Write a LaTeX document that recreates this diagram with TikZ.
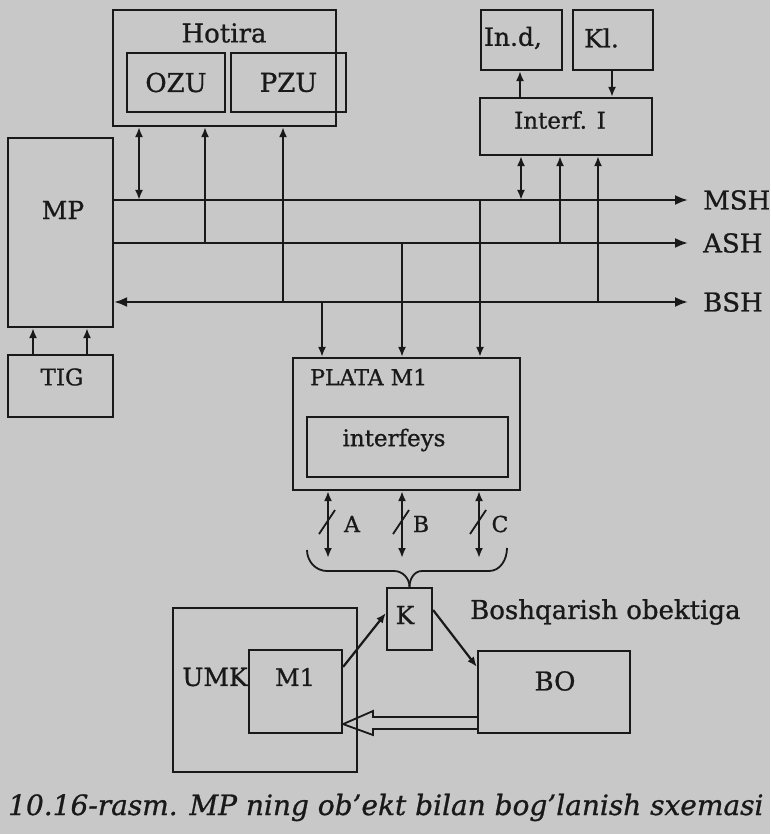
\documentclass[tikz,border=0pt]{standalone}
\usepackage{fontspec}
\setmainfont[FakeBold=0.9]{DejaVu Serif}
\usetikzlibrary{arrows.meta,calc}
\definecolor{bgc}{RGB}{200,200,200}
\definecolor{ink}{RGB}{25,25,25}
\begin{document}
\begin{tikzpicture}[x=1pt,y=-1pt,
  box/.style={draw=ink, line width=2.2pt, inner sep=0pt, text=ink, font=\fontsize{26}{30}\selectfont},
  lbl/.style={text=ink, inner sep=0pt, font=\fontsize{26}{30}\selectfont},
  conn/.style={draw=ink, line width=2.2pt},
  tip/.style={-{Latex[length=10pt,width=8pt]}},
  tips/.style={{Latex[length=10pt,width=8pt]}-{Latex[length=10pt,width=8pt]}},
  bustip/.style={-{Latex[length=13pt,width=10pt]}},
  bustips/.style={{Latex[length=13pt,width=10pt]}-{Latex[length=13pt,width=10pt]}}
]
\fill[bgc] (0,0) rectangle (770,834);
\useasboundingbox (0,0) rectangle (770,834);

% memory
\node[box, minimum width=223pt, minimum height=116pt] (hot) at (224.5,68) {};
\node[lbl] (hotT) at (224,33) {Hotira};
\node[box, minimum width=98pt, minimum height=59pt] (ozu) at (176,82.5) {OZU};
\node[box, minimum width=115pt, minimum height=59pt] (pzu) at (288.5,82.5) {PZU};

% MP and TIG
\node[box, minimum width=105pt, minimum height=189pt] (mp) at (60.5,232.5) {};
\node[lbl, font=\fontsize{25}{30}\selectfont] (mpT) at (63,210) {MP};
\node[box, minimum width=105pt, minimum height=62pt] (tig) at (60.5,386) {};
\node[lbl, font=\fontsize{23}{28}\selectfont] (tigT) at (62,377) {TIG};
\draw[conn, tip] (tig.north -| 33,0) -- (mp.south -| 33,0);
\draw[conn, tip] (tig.north -| 87,0) -- (mp.south -| 87,0);

% I/O
\node[box, minimum width=81pt, minimum height=60pt] (ind) at (521.5,40) {};
\node[lbl, font=\fontsize{25}{30}\selectfont] (indT) at (513,38) {In.d,};
\node[box, minimum width=80pt, minimum height=60pt] (kl) at (613,40) {};
\node[lbl, font=\fontsize{25}{30}\selectfont, anchor=west] (klT) at (584,38) {Kl.};
\node[box, minimum width=172pt, minimum height=57pt] (itf) at (566,126.5) {};
\node[lbl, font=\fontsize{23}{28}\selectfont] (itfT) at (560,120) {Interf. I};
\draw[conn, tip] (itf.north -| 520,0) -- (ind.south -| 520,0);
\draw[conn, tip] (kl.south -| 612,0) -- (itf.north -| 612,0);

% buses
\coordinate (mshE) at (688,200);
\coordinate (ashE) at (688,243);
\coordinate (bshE) at (688,302);
\draw[conn, bustip] (mp.east |- mshE) -- (mshE);
\draw[conn, bustip] (mp.east |- ashE) -- (ashE);
\draw[conn, bustips] (mp.east |- bshE) -- (bshE);
\node[lbl, anchor=west] (mshT) at (703,200) {MSH};
\node[lbl, anchor=west] (ashT) at (703,243) {ASH};
\node[lbl, anchor=west] (bshT) at (703,302) {BSH};

% memory links
\coordinate (h1) at (139,200);
\coordinate (h2) at (205,243);
\coordinate (h3) at (283,302);
\draw[conn, tips] (h1) -- (h1 |- hot.south);
\draw[conn, tip] (h2) -- (h2 |- hot.south);
\draw[conn, tip] (h3) -- (h3 |- hot.south);

% interface links
\coordinate (i1) at (521,200);
\coordinate (i2) at (560,243);
\coordinate (i3) at (598,302);
\draw[conn, tips] (i1) -- (i1 |- itf.south);
\draw[conn, tip] (i2) -- (i2 |- itf.south);
\draw[conn, tip] (i3) -- (i3 |- itf.south);

% PLATA M1
\node[box, minimum width=227pt, minimum height=132pt] (plata) at (406.5,424) {};
\node[lbl, font=\fontsize{22}{26}\selectfont, anchor=west] (plataT) at (310,377) {PLATA M1};
\node[box, minimum width=201pt, minimum height=60pt] (ifs) at (407.5,447) {};
\node[lbl, font=\fontsize{23}{28}\selectfont] (ifsT) at (394,440) {interfeys};
\coordinate (p1) at (322,302);
\coordinate (p2) at (402,243);
\coordinate (p3) at (480,200);
\draw[conn, tip] (p1) -- (p1 |- plata.north);
\draw[conn, tip] (p2) -- (p2 |- plata.north);
\draw[conn, tip] (p3) -- (p3 |- plata.north);

% A B C
\coordinate (a1) at (328,558);
\coordinate (b1) at (402,558);
\coordinate (c1) at (479,558);
\draw[conn, tips] (a1 |- plata.south) -- (a1);
\draw[conn, tips] (b1 |- plata.south) -- (b1);
\draw[conn, tips] (c1 |- plata.south) -- (c1);
\draw[conn, line width=1.8pt] ($(a1)+(-9,-24)$) -- ($(a1)+(7,-48)$);
\draw[conn, line width=1.8pt] ($(b1)+(-9,-24)$) -- ($(b1)+(7,-48)$);
\draw[conn, line width=1.8pt] ($(c1)+(-9,-24)$) -- ($(c1)+(7,-48)$);
\node[lbl, font=\fontsize{22}{26}\selectfont] (aT) at (352,524) {A};
\node[lbl, font=\fontsize{22}{26}\selectfont] (bT) at (421,524) {B};
\node[lbl, font=\fontsize{22}{26}\selectfont] (cT) at (500,524) {C};

% K and brace
\node[box, minimum width=45pt, minimum height=62pt] (k) at (409.5,619) {};
\node[lbl, font=\fontsize{25}{30}\selectfont] (kT) at (405,615) {K};
\draw[conn, line width=1.8pt] (307,550) to[out=-90,in=180] (327,571) -- (394,571) to[out=0,in=90] (k.north);
\draw[conn, line width=1.8pt] (k.north) to[out=90,in=180] (422,571) -- (489,571) to[out=0,in=-90] (507,548);
\node[lbl, anchor=west] (boshT) at (470,612) {Boshqarish obektiga};

% UMK, M1, BO
\node[box, minimum width=184pt, minimum height=164pt] (umk) at (265,690) {};
\node[lbl, font=\fontsize{25}{30}\selectfont] (umkT) at (215,677) {UMK};
\node[box, minimum width=93pt, minimum height=83pt] (m1) at (295.5,691.5) {};
\node[lbl, font=\fontsize{24}{28}\selectfont] (m1T) at (295,677) {M1};
\node[box, minimum width=152pt, minimum height=82pt] (bo) at (554,692) {};
\node[lbl] (boT) at (555,681) {BO};

\draw[conn, tip] ($(m1.north east)+(0,18)$) -- ($(k.west)+(0,-6)$);
\draw[conn, tip] ($(k.east)+(0,-9)$) -- ($(bo.north west)+(0,17)$);

\coordinate (d1) at (0,717);
\coordinate (d2) at (0,729);
\coordinate (dA) at ($(m1.south east)+(0,-10)$);
\draw[conn, line width=1.8pt, line join=miter] (bo.west |- d1) -- (373,717) -- (373,711) -- (dA) -- (373,735) -- (373,729) -- (bo.west |- d2);

% caption
\node[lbl, font=\itshape\fontsize{28}{32}\selectfont, anchor=base west] (cap) at (8,815) {10.16-rasm. MP ning ob'ekt bilan bog'lanish sxemasi};
\end{tikzpicture}
\end{document}
